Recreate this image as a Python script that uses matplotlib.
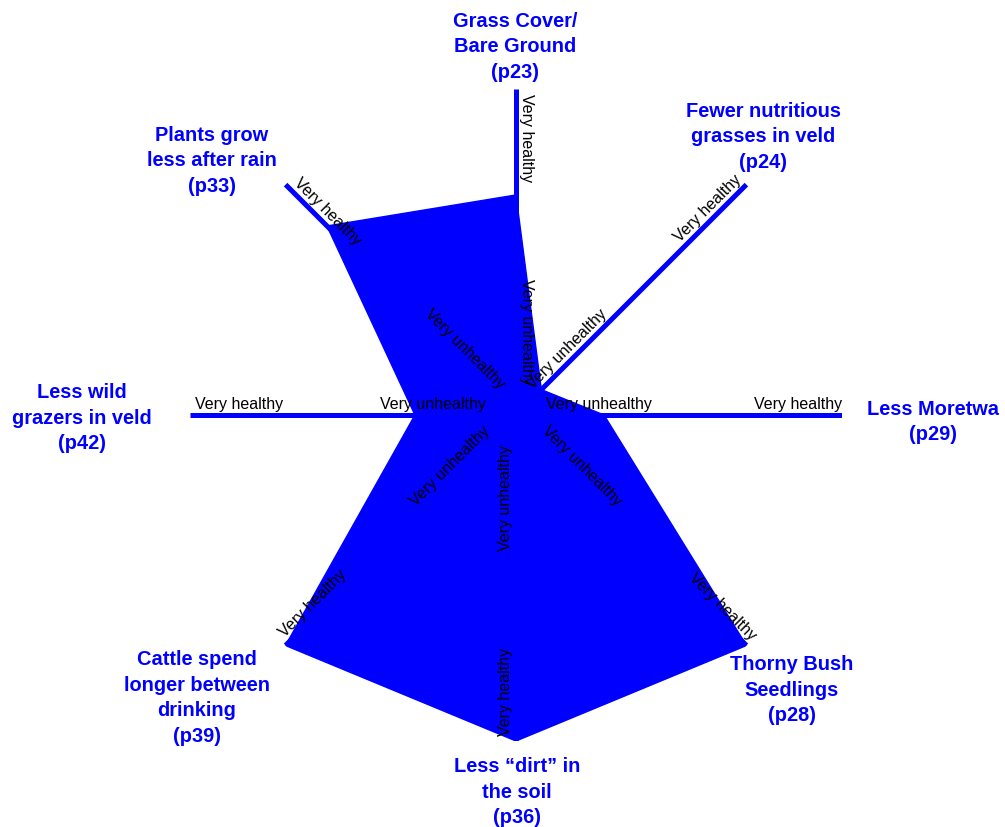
import numpy as np
import matplotlib
matplotlib.use("Agg")
import matplotlib.pyplot as plt

# ---- data ----
categories = [
    "Grass Cover/\nBare Ground\n(p23)",
    "Fewer nutritious\ngrasses in veld\n(p24)",
    "Less Moretwa\n(p29)",
    "Thorny Bush\nSeedlings\n(p28)",
    "Less \u201cdirt\u201d in\nthe soil\n(p36)",
    "Cattle spend\nlonger between\ndrinking\n(p39)",
    "Less wild\ngrazers in veld\n(p42)",
    "Plants grow\nless after rain\n(p33)",
]
values = [0.675, 0.11, 0.27, 1.0, 1.0, 1.0, 0.31, 0.82]
scale_low = "Very unhealthy"
scale_high = "Very healthy"

# ---- layout ----
W, H = 1005, 827
CX, CY, R = 516, 415, 326
BLUE = "#0000FF"
# label centres in pixels (layout only)
label_pos = [(515, 47), (763, 137), (933, 422), (792, 690),
             (517, 792), (197, 698), (82, 418), (212, 161)]
# reading direction of tick text along each axis: True = outward
outward = [False, True, True, True, False, False, False, False]

fig = plt.figure(figsize=(W / 100, H / 100), dpi=100)
ax = fig.add_axes([(CX - R) / W, (H - CY - R) / H, 2 * R / W, 2 * R / H],
                  projection="polar")
ax.set_theta_zero_location("N")
ax.set_theta_direction(-1)
ax.set_ylim(0, 1)
ax.grid(False)
ax.set_xticks([])
ax.set_yticks([])
ax.spines["polar"].set_visible(False)
ax.patch.set_alpha(0)

n = len(categories)
theta = np.arange(n) * 2 * np.pi / n
tc = np.append(theta, theta[0])
vc = np.append(values, values[0])
ax.fill(tc, vc, color=BLUE, lw=0, zorder=2)
ax.plot(tc, vc, color=BLUE, lw=1, zorder=2)

for t in theta:
    ax.plot([t, t], [0, 1], color=BLUE, lw=3.6, solid_capstyle="butt", zorder=3)

tick_font = dict(family="Liberation Sans", fontsize=11.5, color="black")
r_in = 30 / R
for i, t in enumerate(theta):
    phi = 90 - np.degrees(t)  # math angle of outward direction
    if outward[i]:
        rot = phi
        lo = dict(r=r_in, ha="left")
        hi = dict(r=1.0, ha="right")
    else:
        rot = phi - 180
        lo = dict(r=r_in, ha="right")
        hi = dict(r=0.985, ha="left")
    rot = (rot + 180) % 360 - 180
    up = np.radians(rot + 90)
    off = (6 * np.cos(up), 6 * np.sin(up))
    for txt, spec in ((scale_low, lo), (scale_high, hi)):
        ax.annotate(txt, xy=(t, spec["r"]), xytext=off,
                    textcoords="offset pixels", rotation=rot,
                    rotation_mode="anchor", ha=spec["ha"], va="baseline",
                    annotation_clip=False, zorder=4, **tick_font)

for lab, (px, py) in zip(categories, label_pos):
    fig.text(px / W, 1 - py / H, lab, ha="center", va="center",
             multialignment="center", family="Liberation Sans",
             fontweight="bold", fontsize=14.4, color=BLUE, linespacing=1.45)

fig.savefig("out.png", dpi=100, facecolor="white")
